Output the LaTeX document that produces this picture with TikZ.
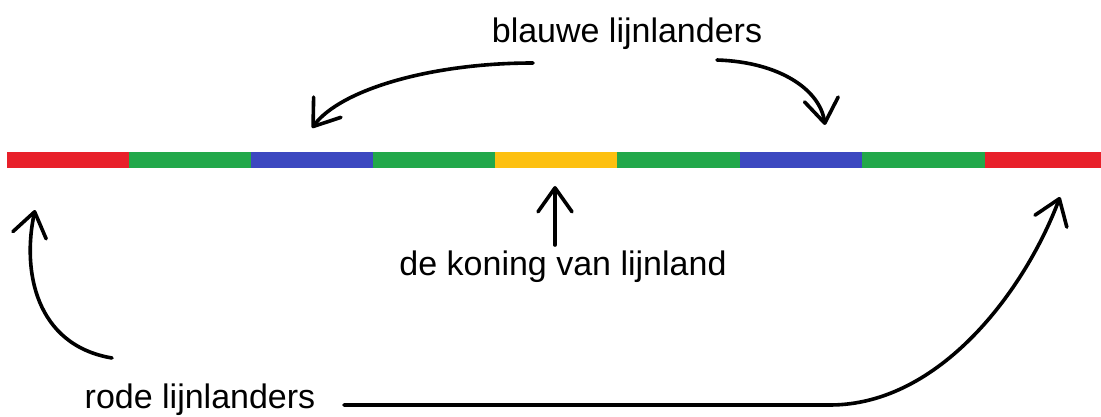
\documentclass[tikz,border=0pt]{standalone}
\usepackage{fontspec}
\setmainfont{Liberation Sans}
\usetikzlibrary{arrows.meta}
\definecolor{lred}{HTML}{E8202A}
\definecolor{lgreen}{HTML}{22A84A}
\definecolor{lblue}{HTML}{3C48C0}
\definecolor{lyellow}{HTML}{FDC010}
\tikzset{
  arr/.style={line width=3.6pt, line cap=round, black,
    -{Straight Barb[length=24pt,width=34pt,line cap=round,line join=round]}},
  lbl/.style={anchor=base, inner sep=0pt, font=\fontsize{34}{40}\selectfont},
}
\begin{document}
\begin{tikzpicture}[x=1pt,y=-1pt]
\useasboundingbox (0,0) rectangle (1101,417);
% the line
\fill[lred]    (7,152)   rectangle (129,168);
\fill[lgreen]  (129,152) rectangle (251,168);
\fill[lblue]   (251,152) rectangle (373,168);
\fill[lgreen]  (373,152) rectangle (495,168);
\fill[lyellow] (495,152) rectangle (617,168);
\fill[lgreen]  (617,152) rectangle (740,168);
\fill[lblue]   (740,152) rectangle (862,168);
\fill[lgreen]  (862,152) rectangle (985,168);
\fill[lred]    (985,152) rectangle (1101,168);
% labels
\node[lbl] (blauw) at (627,43) {blauwe lijnlanders};
\node[lbl] (koning) at (563,275) {de koning van lijnland};
\node[lbl] (rode) at (200,408) {rode lijnlanders};
% coordinates
\coordinate (bl0) at (533,63);
\coordinate (bl1) at (312,128);
\coordinate (br0) at (717,60);
\coordinate (br1) at (825,125);
\coordinate (k0) at (555,245);
\coordinate (k1) at (555,186);
\coordinate (rl0) at (112,358);
\coordinate (rl1) at (35,210);
\coordinate (rr0) at (344,405);
\coordinate (rr1) at (830,405);
\coordinate (rr2) at (1060,197);
% arrows
\draw[arr] (bl0) .. controls (430,63) and (340,90) .. (bl1);
\draw[arr] (br0) .. controls (780,62) and (820,90) .. (br1);
\draw[arr] (k0) -- (k1);
\draw[arr] (rl0) .. controls (35,345) and (22,270) .. (rl1);
\draw[arr] (rr0) -- (rr1) .. controls (940,405) and (1025,290) .. (rr2);
\end{tikzpicture}
\end{document}
